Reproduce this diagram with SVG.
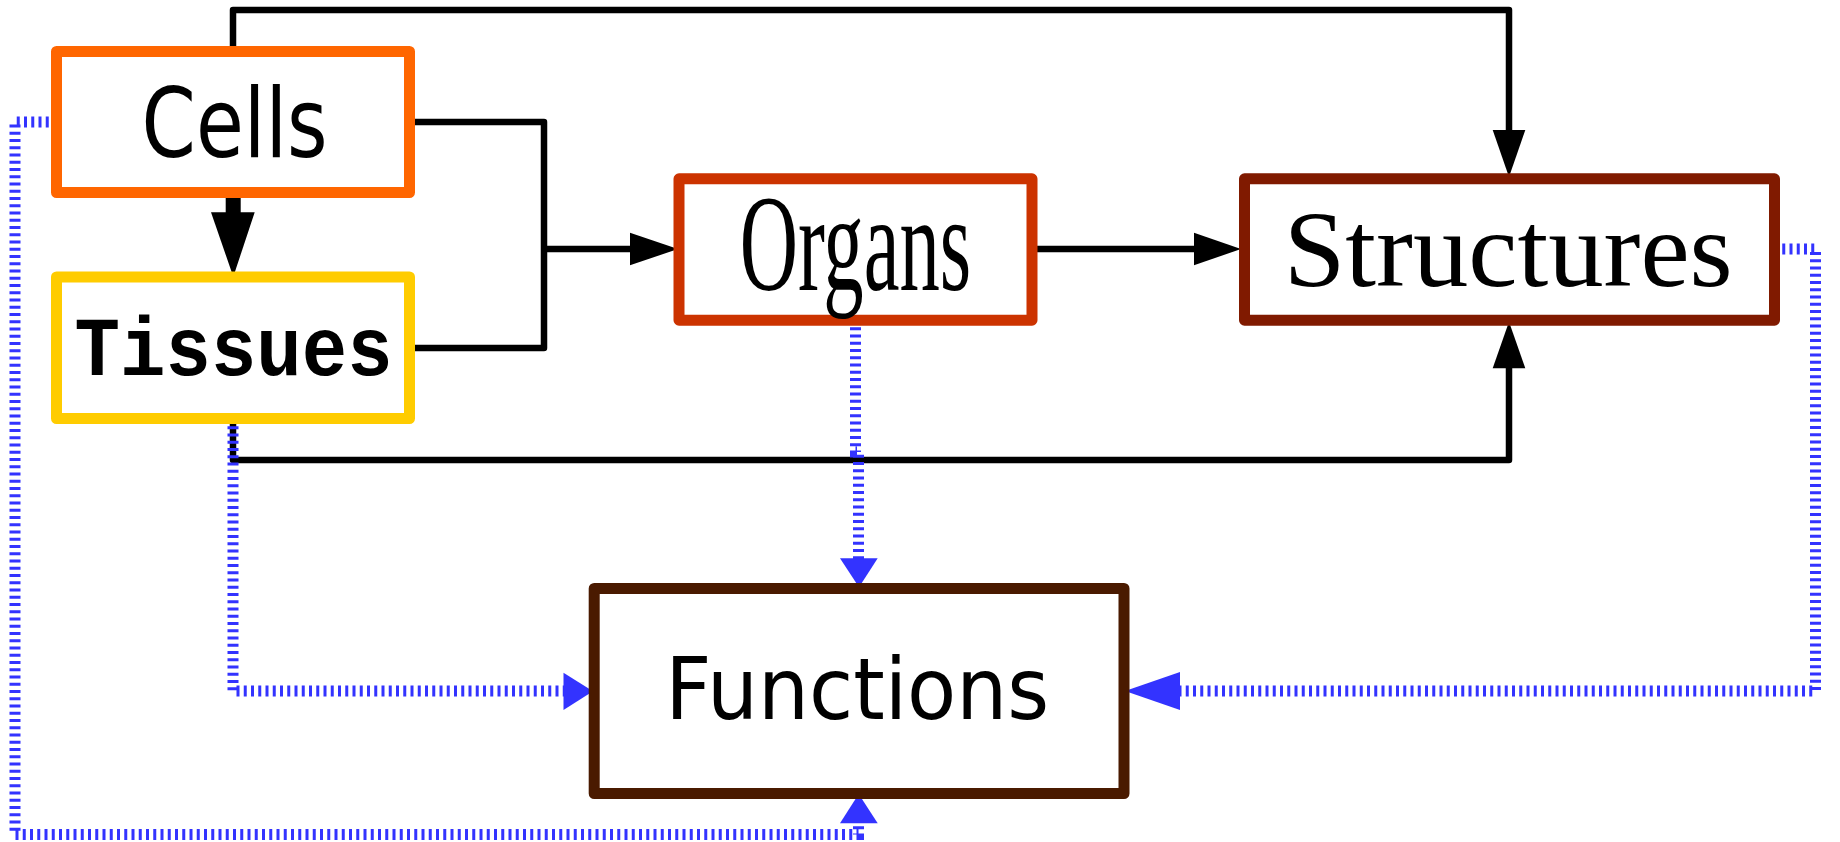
<svg xmlns="http://www.w3.org/2000/svg" width="1840" height="842" viewBox="0 0 1840 842">
<style>
.box{fill:#fff;stroke-width:11;stroke-linejoin:round}
.blk{fill:none;stroke:#000;stroke-width:6.5;stroke-linejoin:round}
.blu{fill:none;stroke:#3333ff;stroke-width:11;stroke-dasharray:3 4.25}
.bh{fill:#000}
.uh{fill:#3333ff}
.hand{font-family:"DejaVu Sans",sans-serif;fill:#000}
</style>
<rect width="1840" height="842" fill="#fff"/>
<g id="connectors">
<path class="blk" d="M233 46 V10 H1509 V132"/>
<polygon class="bh" points="1492.7,130 1525.3,130 1509,177"/>
<path class="blk" d="M415 122 H544 V348 H415 M544 249 H632"/>
<polygon class="bh" points="630,232.7 630,265.3 678,249"/>
<path class="blk" d="M1037 249 H1196"/>
<polygon class="bh" points="1194,232.7 1194,265.3 1241,249"/>
<path class="blk" d="M233 419 V460 H1509 V366"/>
<polygon class="bh" points="1492.7,368.3 1525.3,368.3 1509,321.7"/>
<rect class="bh" x="225.7" y="193" width="15" height="21"/>
<polygon class="bh" points="211,212.3 254.7,212.3 233.3,276.7"/>
<path class="blu" d="M56 122 H15 V834.5 H858.5 V823"/>
<polygon class="uh" points="840,823.3 877.7,823.3 858.7,794"/>
<path class="blu" d="M233 419 V691 H565"/>
<polygon class="uh" points="563.5,672.7 563.5,710 593,691.3"/>
<path class="blu" d="M855.5 320 V452 H858.5 V560"/>
<polygon class="uh" points="840,558.3 877.7,558.3 859,587.3"/>
<path class="blu" d="M1775 249 H1815.5 V691 H1178"/>
<polygon class="uh" points="1180,672 1180,710 1125,691"/>
</g>
<g id="cells">
<rect class="box" stroke="#ff6600" x="56.5" y="51.5" width="353" height="141"/>
<text class="hand" x="141.6" y="157" font-size="96" textLength="186" lengthAdjust="spacingAndGlyphs">Cells</text>
</g>
<g id="tissues">
<rect class="box" stroke="#ffcc00" x="56.5" y="277" width="353" height="141.5"/>
<text x="74.6" y="375" font-family="'Liberation Mono',monospace" font-weight="bold" font-size="84" textLength="318" lengthAdjust="spacingAndGlyphs">Tissues</text>
</g>
<g id="organs">
<rect class="box" stroke="#cc3300" x="679" y="178.8" width="353" height="141.4"/>
<text x="739.7" y="290" font-family="'Liberation Serif',serif" font-size="137" textLength="231.5" lengthAdjust="spacingAndGlyphs">Organs</text>
</g>
<g id="structures">
<rect class="box" stroke="#801a00" x="1244.5" y="178.8" width="530" height="141.4"/>
<text x="1283.7" y="286" font-family="'Liberation Serif',serif" font-size="107" textLength="449" lengthAdjust="spacingAndGlyphs">Structures</text>
</g>
<g id="functions">
<rect class="box" stroke="#4a1a00" x="594.2" y="588.5" width="529.8" height="205"/>
<text class="hand" x="665.2" y="719" font-size="85" textLength="384" lengthAdjust="spacingAndGlyphs">Functions</text>
</g>
</svg>
